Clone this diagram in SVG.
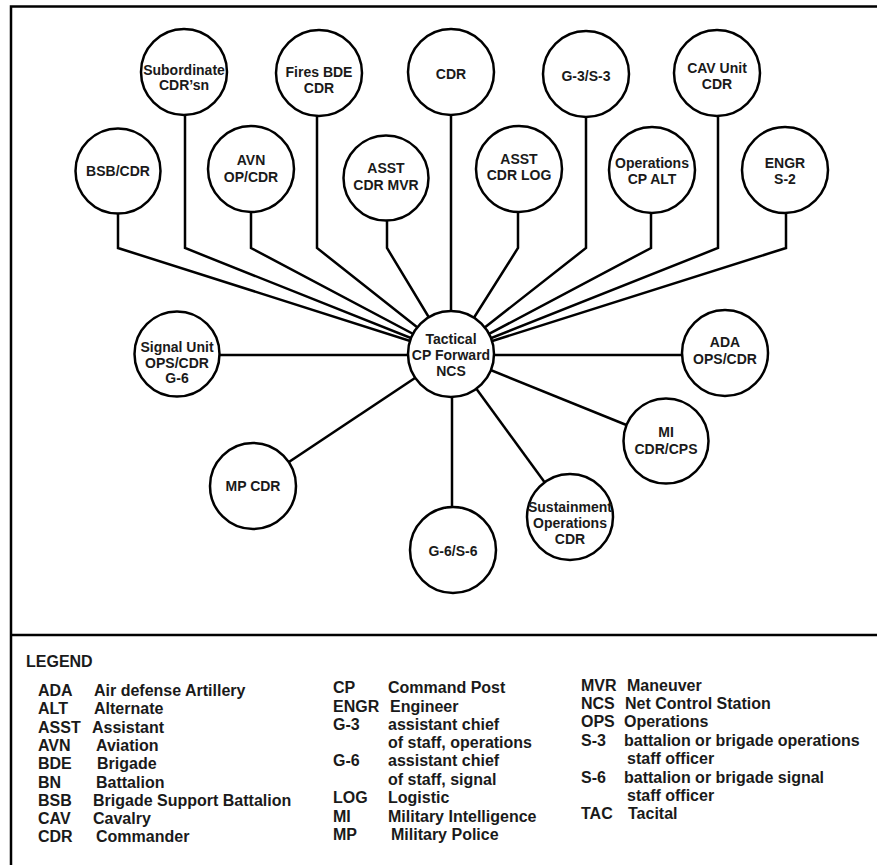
<svg xmlns="http://www.w3.org/2000/svg" width="877" height="865" viewBox="0 0 877 865">
<style>
.frame{stroke:#000;stroke-width:2.5;fill:none}
.conn{stroke:#000;stroke-width:2.5;fill:none;stroke-linejoin:miter}
.node circle{fill:#fff;stroke:#000;stroke-width:2.5}
.node text{font-family:"Liberation Sans",Arial,sans-serif;font-weight:bold;font-size:14px;text-anchor:middle;fill:#1a1a1a}
.lg{font-family:"Liberation Sans",Arial,sans-serif;font-weight:bold;font-size:16px;fill:#1a1a1a}
</style>
<rect width="877" height="865" fill="#fff"/>
<g id="frame">
<path class="frame" d="M11,865 V6.5 H877"/>
<path class="frame" d="M11,635 H877"/>
</g>
<g id="connectors">
<polyline class="conn" points="118,213 118,248 451,354"/>
<polyline class="conn" points="185,115 185,248 451,354"/>
<polyline class="conn" points="251,212 251,248 451,354"/>
<polyline class="conn" points="317,116 317,248 451,354"/>
<polyline class="conn" points="387,221 387,248 451,354"/>
<polyline class="conn" points="451,115 451,354"/>
<polyline class="conn" points="518,212 518,248 451,354"/>
<polyline class="conn" points="586,117 586,248 451,354"/>
<polyline class="conn" points="651,213 651,248 451,354"/>
<polyline class="conn" points="718,116 718,248 451,354"/>
<polyline class="conn" points="786,213 786,248 451,354"/>
<line class="conn" x1="177" y1="355" x2="451" y2="355"/>
<line class="conn" x1="725" y1="355" x2="451" y2="355"/>
<line class="conn" x1="253" y1="486" x2="451" y2="354"/>
<line class="conn" x1="452" y1="550" x2="452" y2="354"/>
<line class="conn" x1="570" y1="517" x2="451" y2="354"/>
<line class="conn" x1="666" y1="441" x2="451" y2="354"/>
</g>
<g id="n-bsb" class="node"><circle cx="118" cy="171" r="42.5"/><text x="118" y="176">BSB/CDR</text></g>
<g id="n-sub" class="node"><circle cx="184" cy="72" r="43"/><text x="184" y="75">Subordinate</text><text x="184" y="90">CDR’sn</text></g>
<g id="n-avn" class="node"><circle cx="251" cy="169" r="43"/><text x="251" y="165">AVN</text><text x="251" y="182">OP/CDR</text></g>
<g id="n-fires" class="node"><circle cx="319" cy="73" r="43"/><text x="319" y="77">Fires BDE</text><text x="319" y="93">CDR</text></g>
<g id="n-mvr" class="node"><circle cx="386" cy="178" r="42.5"/><text x="386" y="173">ASST</text><text x="386" y="190">CDR MVR</text></g>
<g id="n-cdr" class="node"><circle cx="451" cy="72" r="43"/><text x="451" y="79">CDR</text></g>
<g id="n-log" class="node"><circle cx="519" cy="169" r="43"/><text x="519" y="164">ASST</text><text x="519" y="180">CDR LOG</text></g>
<g id="n-g3" class="node"><circle cx="586" cy="74" r="43"/><text x="586" y="81">G-3/S-3</text></g>
<g id="n-ops" class="node"><circle cx="652" cy="170" r="43"/><text x="652" y="168">Operations</text><text x="652" y="184">CP ALT</text></g>
<g id="n-cav" class="node"><circle cx="717" cy="73" r="43"/><text x="717" y="73">CAV Unit</text><text x="717" y="89">CDR</text></g>
<g id="n-engr" class="node"><circle cx="785" cy="170" r="43"/><text x="785" y="168">ENGR</text><text x="785" y="184">S-2</text></g>
<g id="n-signal" class="node"><circle cx="177" cy="354" r="42.5"/><text x="177" y="352">Signal Unit</text><text x="177" y="368">OPS/CDR</text><text x="177" y="383">G-6</text></g>
<g id="n-center" class="node"><circle cx="451" cy="354" r="43"/><text x="451" y="344">Tactical</text><text x="451" y="360">CP Forward</text><text x="451" y="376">NCS</text></g>
<g id="n-ada" class="node"><circle cx="725" cy="353" r="43"/><text x="725" y="347">ADA</text><text x="725" y="364">OPS/CDR</text></g>
<g id="n-mi" class="node"><circle cx="666" cy="441" r="42.5"/><text x="666" y="437">MI</text><text x="666" y="454">CDR/CPS</text></g>
<g id="n-mp" class="node"><circle cx="253" cy="486" r="43"/><text x="253" y="491">MP CDR</text></g>
<g id="n-sust" class="node"><circle cx="570" cy="517" r="43"/><text x="570" y="512">Sustainment</text><text x="570" y="528">Operations</text><text x="570" y="544">CDR</text></g>
<g id="n-g6" class="node"><circle cx="453" cy="550" r="43"/><text x="453" y="556">G-6/S-6</text></g>
<g id="legend">
<text class="lg" x="26" y="667">LEGEND</text>
<text class="lg" x="38" y="696">ADA</text><text class="lg" x="94" y="696">Air defense Artillery</text>
<text class="lg" x="38" y="714">ALT</text><text class="lg" x="94" y="714">Alternate</text>
<text class="lg" x="38" y="733">ASST</text><text class="lg" x="92" y="733">Assistant</text>
<text class="lg" x="38" y="751">AVN</text><text class="lg" x="96" y="751">Aviation</text>
<text class="lg" x="38" y="769">BDE</text><text class="lg" x="97" y="769">Brigade</text>
<text class="lg" x="38" y="788">BN</text><text class="lg" x="96" y="788">Battalion</text>
<text class="lg" x="38" y="806">BSB</text><text class="lg" x="93" y="806">Brigade Support Battalion</text>
<text class="lg" x="38" y="824">CAV</text><text class="lg" x="93" y="824">Cavalry</text>
<text class="lg" x="38" y="842">CDR</text><text class="lg" x="96" y="842">Commander</text>
<text class="lg" x="333" y="693">CP</text><text class="lg" x="388" y="693">Command Post</text>
<text class="lg" x="333" y="712">ENGR</text><text class="lg" x="390" y="712">Engineer</text>
<text class="lg" x="333" y="730">G-3</text><text class="lg" x="388" y="730">assistant chief</text>
<text class="lg" x="388" y="748">of staff, operations</text>
<text class="lg" x="333" y="766">G-6</text><text class="lg" x="388" y="766">assistant chief</text>
<text class="lg" x="388" y="785">of staff, signal</text>
<text class="lg" x="333" y="803">LOG</text><text class="lg" x="388" y="803">Logistic</text>
<text class="lg" x="333" y="822">MI</text><text class="lg" x="388" y="822">Military Intelligence</text>
<text class="lg" x="333" y="840">MP</text><text class="lg" x="391" y="840">Military Police</text>
<text class="lg" x="581" y="691">MVR</text><text class="lg" x="627" y="691">Maneuver</text>
<text class="lg" x="581" y="709">NCS</text><text class="lg" x="625" y="709">Net Control Station</text>
<text class="lg" x="581" y="727">OPS</text><text class="lg" x="624" y="727">Operations</text>
<text class="lg" x="581" y="746">S-3</text><text class="lg" x="624" y="746">battalion or brigade operations</text>
<text class="lg" x="627" y="764">staff officer</text>
<text class="lg" x="581" y="783">S-6</text><text class="lg" x="624" y="783">battalion or brigade signal</text>
<text class="lg" x="627" y="801">staff officer</text>
<text class="lg" x="581" y="819">TAC</text><text class="lg" x="628" y="819">Tacital</text>
</g>
</svg>
